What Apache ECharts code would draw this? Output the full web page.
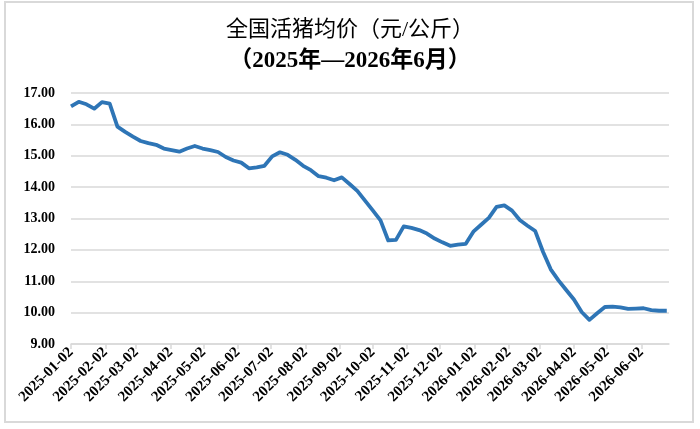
<!DOCTYPE html>
<html>
<head>
<meta charset="utf-8">
<script src="https://cdn.jsdelivr.net/npm/echarts@6/dist/echarts.min.js"></script>
<style>
  html, body { margin: 0; padding: 0; background: #fff; }
  #chart { width: 700px; height: 429px; }
</style>
</head>
<body>
<div id="chart"></div>
<script>
// weekly sample dates
var dates = [
  '2025-01-02','2025-01-09','2025-01-16','2025-01-23','2025-01-30','2025-02-06','2025-02-13','2025-02-20',
  '2025-02-27','2025-03-06','2025-03-13','2025-03-20','2025-03-27','2025-04-03','2025-04-10','2025-04-17',
  '2025-04-24','2025-05-01','2025-05-08','2025-05-15','2025-05-22','2025-05-29','2025-06-05','2025-06-12',
  '2025-06-19','2025-06-26','2025-07-03','2025-07-10','2025-07-17','2025-07-24','2025-07-31','2025-08-07',
  '2025-08-14','2025-08-21','2025-08-28','2025-09-04','2025-09-11','2025-09-18','2025-09-25','2025-10-02',
  '2025-10-09','2025-10-16','2025-10-23','2025-10-30','2025-11-06','2025-11-13','2025-11-20','2025-11-27',
  '2025-12-04','2025-12-11','2025-12-18','2025-12-25','2026-01-01','2026-01-08','2026-01-15','2026-01-22',
  '2026-01-29','2026-02-05','2026-02-12','2026-02-19','2026-02-26','2026-03-05','2026-03-12','2026-03-19',
  '2026-03-26','2026-04-02','2026-04-09','2026-04-16','2026-04-23','2026-04-30','2026-05-07','2026-05-14',
  '2026-05-21','2026-05-28','2026-06-04','2026-06-11','2026-06-18','2026-06-25'
];
// 全国活猪均价 元/公斤
var prices = [
  16.57, 16.72, 16.64, 16.50, 16.71, 16.66, 15.93, 15.76,
  15.61, 15.47, 15.40, 15.35, 15.23, 15.18, 15.13, 15.23,
  15.31, 15.23, 15.18, 15.12, 14.96, 14.85, 14.78, 14.60,
  14.63, 14.68, 14.98, 15.11, 15.03, 14.87, 14.68, 14.54,
  14.35, 14.30, 14.22, 14.31, 14.10, 13.88, 13.57, 13.26,
  12.94, 12.30, 12.32, 12.75, 12.70, 12.63, 12.52, 12.36,
  12.24, 12.13, 12.17, 12.19, 12.58, 12.80, 13.02, 13.37,
  13.42, 13.25, 12.95, 12.77, 12.60, 11.94, 11.38, 11.03,
  10.72, 10.42, 10.02, 9.77, 9.98, 10.18, 10.19, 10.17,
  10.12, 10.13, 10.14, 10.08, 10.06, 10.06
];
// x axis tick labels (monthly)
var tickDates = [
  '2025-01-02','2025-02-02','2025-03-02','2025-04-02','2025-05-02','2025-06-02',
  '2025-07-02','2025-08-02','2025-09-02','2025-10-02','2025-11-02','2025-12-02',
  '2026-01-02','2026-02-02','2026-03-02','2026-04-02','2026-05-02','2026-06-02'
];

var DAY = 86400000;
// days since 2025-01-02 (UTC based so no timezone drift)
function toDay(s) {
  var p = s.split('-');
  return Math.round((Date.UTC(+p[0], +p[1] - 1, +p[2]) - Date.UTC(2025, 0, 2)) / DAY);
}
function pad(n) { return n < 10 ? '0' + n : '' + n; }
function dayLabel(v) {
  var d = new Date(Date.UTC(2025, 0, 2) + Math.round(v) * DAY);
  return d.getUTCFullYear() + '-' + pad(d.getUTCMonth() + 1) + '-' + pad(d.getUTCDate());
}

var tickValues = tickDates.map(toDay);
var seriesData = dates.map(function (d, i) { return [toDay(d), prices[i]]; });

var serif = 'Liberation Serif, Noto Sans CJK SC, serif';
var myChart = echarts.init(document.getElementById('chart'));
var option = {
  animation: false,
  backgroundColor: '#fff',
  title: [
    {
      text: '全国活猪均价（元/公斤）',
      left: 'center',
      top: 14,
      textStyle: { fontFamily: serif, fontSize: 22, fontWeight: 'normal', color: '#000' }
    },
    {
      text: '（2025年—2026年6月）',
      left: 'center',
      top: 45,
      textStyle: { fontFamily: serif, fontSize: 23, fontWeight: 'bold', color: '#000' }
    }
  ],
  graphic: [
    {
      type: 'rect',
      shape: { x: 5, y: 2, width: 688, height: 420 },
      style: { fill: 'none', stroke: '#d9d9d9', lineWidth: 2 },
      silent: true,
      z: -1
    }
  ],
  grid: { left: 71, right: 31, top: 93, bottom: 85 },
  xAxis: {
    type: 'value',
    min: 0,
    max: toDay('2026-06-27'),
    axisLine: { show: true, onZero: false, lineStyle: { color: '#d9d9d9', width: 1.5 } },
    axisTick: {
      show: true,
      customValues: tickValues,
      length: 5,
      lineStyle: { color: '#d9d9d9', width: 1.5 }
    },
    axisLabel: {
      customValues: tickValues,
      rotate: 45,
      margin: 6,
      fontFamily: serif,
      fontSize: 15,
      fontWeight: 'bold',
      color: '#000',
      formatter: dayLabel
    },
    splitLine: { show: false }
  },
  yAxis: {
    type: 'value',
    min: 9,
    max: 17,
    interval: 1,
    axisLine: { show: false },
    axisTick: { show: false },
    axisLabel: {
      margin: 16,
      fontFamily: serif,
      fontSize: 14,
      fontWeight: 'bold',
      color: '#000',
      formatter: function (v) { return v.toFixed(2); }
    },
    splitLine: { lineStyle: { color: '#d9d9d9', width: 1.5 } }
  },
  series: [
    {
      name: '全国活猪均价',
      type: 'line',
      data: seriesData,
      showSymbol: false,
      symbol: 'none',
      smooth: false,
      lineStyle: { color: '#2e75b6', width: 3.8, join: 'round' }
    }
  ]
};
myChart.setOption(option);
</script>
</body>
</html>
